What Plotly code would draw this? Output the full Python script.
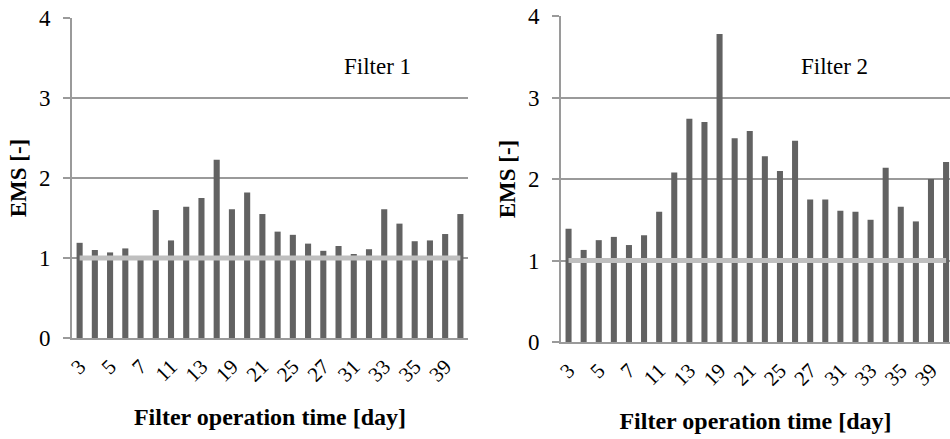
import plotly.graph_objects as go

days = ["3", "4", "5", "6", "7", "10", "11", "12", "13", "17", "19", "20", "21",
        "24", "25", "26", "27", "28", "31", "32", "33", "34", "35", "38", "39", "40"]
shown_labels = ["3", "5", "7", "11", "13", "19", "21", "25", "27", "31", "33", "35", "39"]

ems_filter1 = [1.19, 1.10, 1.07, 1.12, 0.98, 1.60, 1.22, 1.64, 1.75, 2.23, 1.61, 1.82, 1.55,
               1.33, 1.29, 1.18, 1.09, 1.15, 1.05, 1.11, 1.61, 1.43, 1.21, 1.22, 1.30, 1.55]
ems_filter2 = [1.39, 1.13, 1.25, 1.29, 1.19, 1.31, 1.60, 2.08, 2.74, 2.70, 3.78, 2.50, 2.59,
               2.28, 2.10, 2.47, 1.75, 1.75, 1.61, 1.60, 1.50, 2.14, 1.66, 1.48, 2.00, 2.21]
reference_level = [1.0] * len(days)

BAR = "#626262"
REF = "#BFBFBF"
GRID = "#9A9A9A"
SERIF = "Liberation Serif, Times New Roman, serif"

fig = go.Figure()

fig.add_trace(go.Bar(x=days, y=ems_filter1, marker_color=BAR, marker_line_width=0,
                     xaxis="x", yaxis="y", showlegend=False))
fig.add_trace(go.Scatter(x=days, y=reference_level, mode="lines",
                         line=dict(color=REF, width=5), xaxis="x", yaxis="y", showlegend=False))
fig.add_trace(go.Bar(x=days, y=ems_filter2, marker_color=BAR, marker_line_width=0,
                     xaxis="x2", yaxis="y2", showlegend=False))
fig.add_trace(go.Scatter(x=days, y=reference_level, mode="lines",
                         line=dict(color=REF, width=5), xaxis="x2", yaxis="y2", showlegend=False))

W, H = 950, 439

def px_x(x):
    return x / W

def px_y(y):
    return (H - y) / H

def xdom(a, b):
    return [px_x(a), min(1.0, px_x(b))]

def ydom(top, bottom):
    return [px_y(bottom), px_y(top)]

xcommon = dict(type="category", categoryorder="array", categoryarray=days,
               tickmode="array", tickvals=shown_labels, ticktext=shown_labels,
               tickangle=-45, ticks="", showline=True, linecolor=GRID, linewidth=2,
               showgrid=False, zeroline=False, ticklabelstandoff=6, automargin=False,
               tickfont=dict(family=SERIF, size=21, color="black"),
               title=dict(text="<b>Filter operation time [day]</b>",
                          font=dict(family=SERIF, size=24, color="black"), standoff=23))
ycommon = dict(range=[0, 4.001], tickvals=[0, 1, 2, 3, 4], ticks="outside", ticklen=7,
               tickcolor=GRID, tickwidth=2, showline=True, linecolor=GRID, linewidth=2,
               showgrid=True, gridcolor=GRID, gridwidth=2, zeroline=False,
               ticklabelstandoff=8, automargin=False,
               tickfont=dict(family=SERIF, size=23, color="black"),
               title=dict(text="<b>EMS [-]</b>", font=dict(family=SERIF, size=23, color="black"),
                          standoff=6))

fig.update_layout(
    width=W, height=H,
    margin=dict(l=0, r=0, t=0, b=0),
    paper_bgcolor="white", plot_bgcolor="white",
    bargap=0.6,
    xaxis=dict(domain=xdom(72, 468), range=[-0.5, 25.5], anchor="y", **xcommon),
    yaxis=dict(domain=ydom(18, 338), anchor="x", **ycommon),
    xaxis2=dict(domain=xdom(561, 950), range=[-0.5, 25.26], anchor="y2", **xcommon),
    yaxis2=dict(domain=ydom(16, 342), anchor="x2", **ycommon),
    annotations=[
        dict(text="Filter 1", x=px_x(377), y=px_y(52), xref="paper", yref="paper",
             showarrow=False, font=dict(family=SERIF, size=23, color="black")),
        dict(text="Filter 2", x=px_x(870), y=px_y(52), xref="paper", yref="paper",
             showarrow=False, font=dict(family=SERIF, size=23, color="black")),
    ],
)

fig.write_html(
    "out.html",
    config={"displayModeBar": False},
    post_script="document.body.style.margin='0';"
                "document.body.style.overflow='hidden';"
                "document.documentElement.style.overflow='hidden';",
)
